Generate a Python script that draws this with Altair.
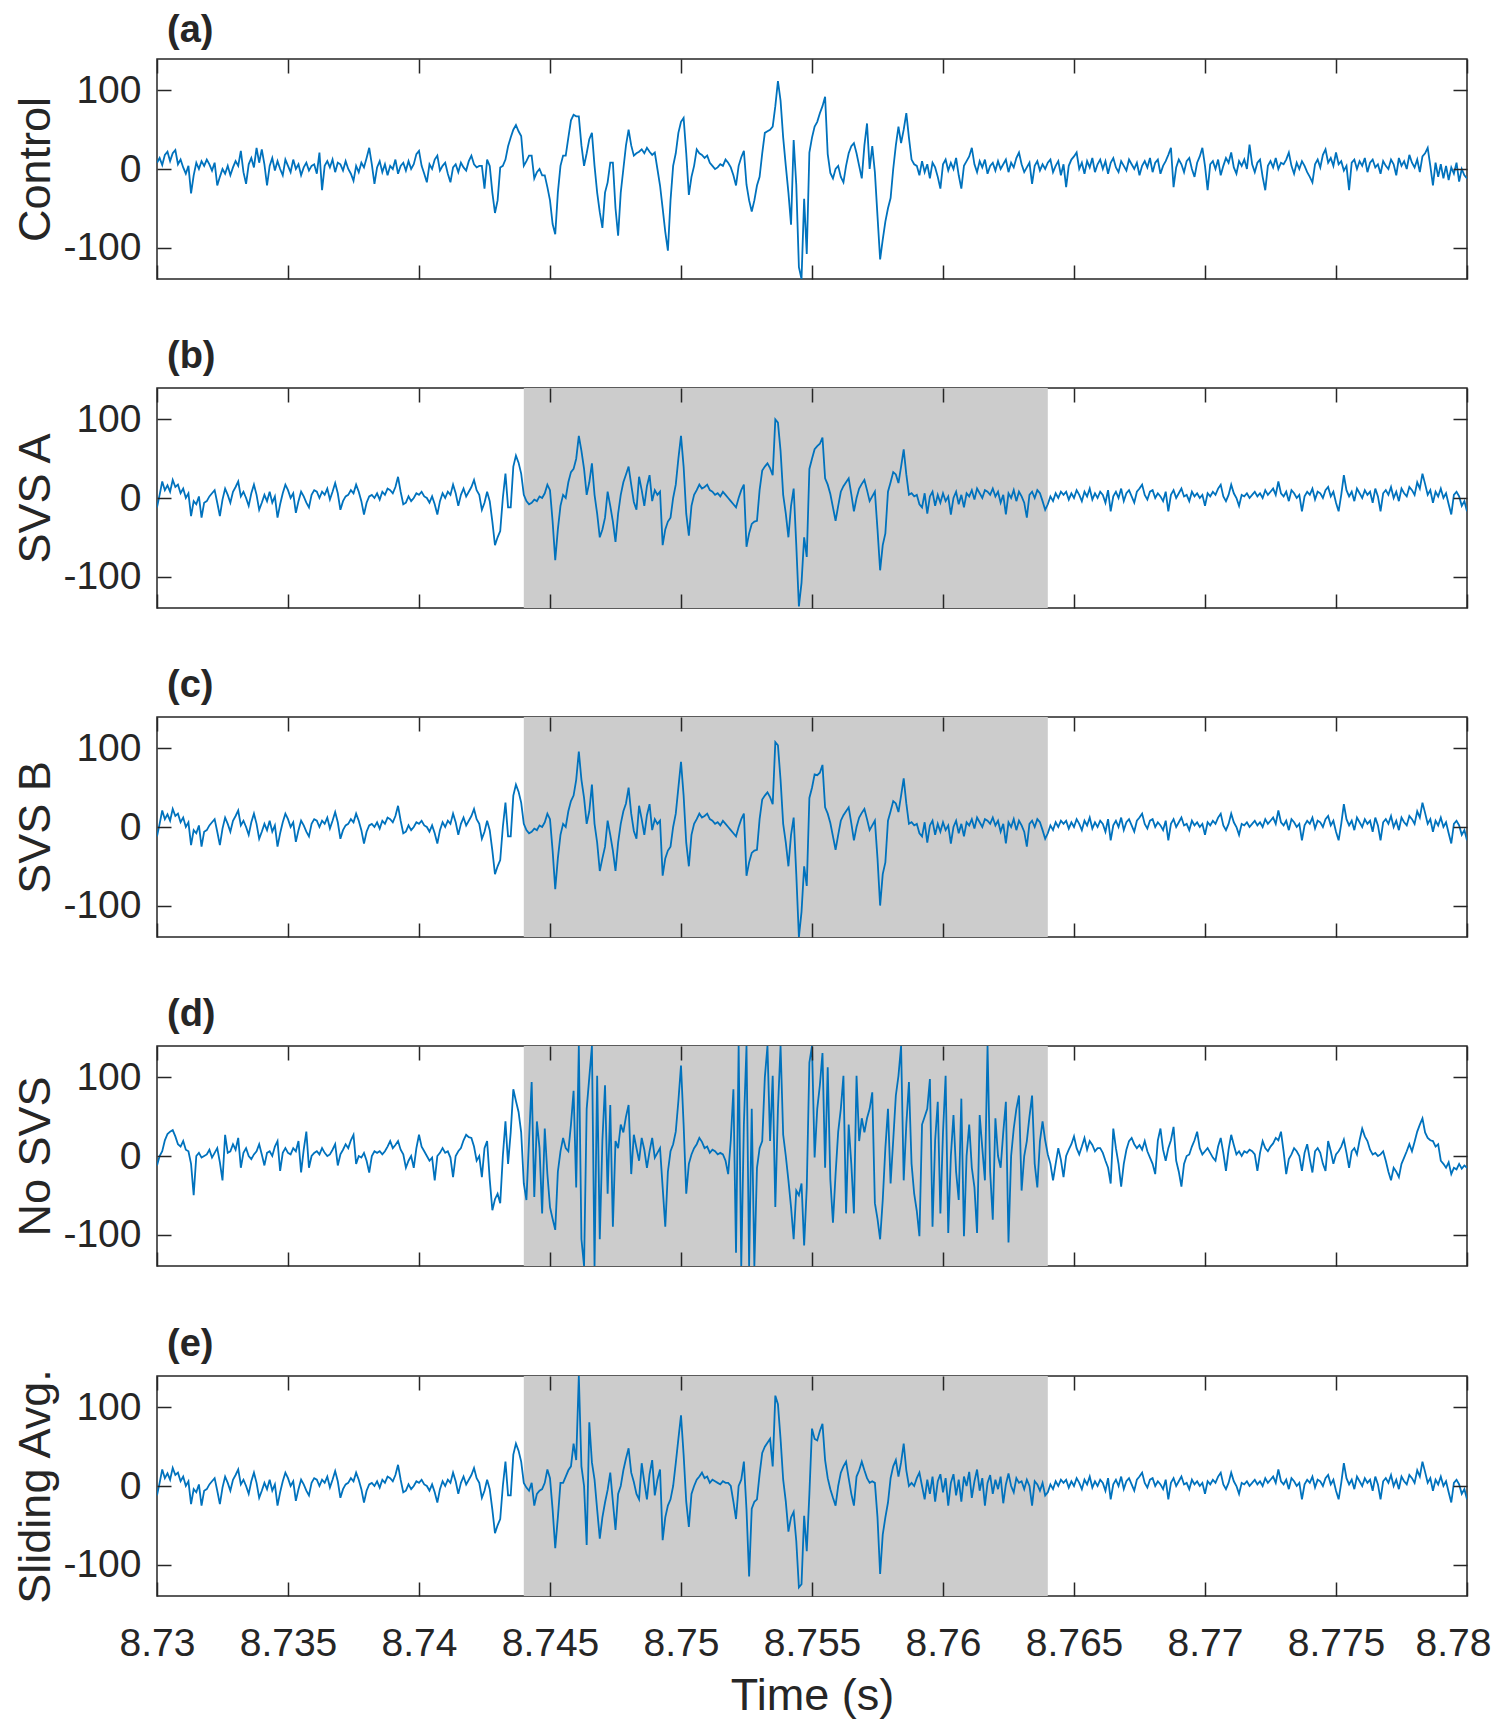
import numpy as np
import pandas as pd
import altair as alt

T0, T1 = 8.73, 8.78
X_TICKS = [8.73, 8.735, 8.74, 8.745, 8.75, 8.755, 8.76, 8.765, 8.77, 8.775, 8.78]
Y_TICKS = [-100, 0, 100]
Y_DOMAIN = [-140, 140]
WINDOW = [8.744, 8.764]

PANEL_TITLES = ["(a)", "(b)", "(c)", "(d)", "(e)"]
Y_LABELS = ["Control", "SVS A", "SVS B", "No SVS", "Sliding Avg."]

CONTROL = [
    8, 14, 5, 18, 22, 10, 20, 24, 6, 12,
    2, -6, 4, -31, -8, 8, 0, 10, 4, 12,
    6, -2, 8, -21, -10, 0, -6, 4, -8, 2,
    10, 4, 23, -4, -19, 6, 14, 2, 27, 8,
    25, 6, -21, 4, 14, -2, 10, 0, -8, 12,
    4, -4, 12, 0, 6, -8, 2, 8, -2, 4,
    6, -6, 21, -27, 4, 10, 2, 12, -4, 8,
    6, -2, 10, 0, -6, -15, 4, -4, 8, 2,
    14, 27, 6, -19, 2, 10, -4, 6, -8, 4,
    0, 12, -6, 4, 8, -2, 10, 0, 6, 19,
    23, 4, -6, -17, 6, 0, 12, 17, -2, 4,
    8, -6, -17, 2, 6, -4, 8, 2, -2, 10,
    17, 6, 2, 4, 4, -25, 12, 4, -30, -56,
    -40, 2, 4, 12, 29, 40, 50, 56, 48, 42,
    4, 10, 17, 17, -12, -4, 0, -8, -8, -23,
    -40, -70, -83, -30, 4, 17, 17, 40, 62, 69,
    67, 67, 30, 4, 20, 38, 46, 4, -30, -55,
    -75, -30, -17, 8, 8, -50, -85, -30, 0, 30,
    50, 30, 17, 20, 22, 25, 20, 27, 22, 18,
    21, 0, -21, -50, -80, -104, -40, 4, 20, 46,
    60, 65, 20, -33, -10, 4, 25, 20, 18, 14,
    17, 8, 4, 0, 2, 6, 4, 12, 8, 2,
    -8, -21, 4, 15, 23, -20, -40, -54, -40, -21,
    -10, 20, 46, 48, 50, 54, 80, 112, 87, 40,
    4, -30, -71, 37, -20, -125, -145, -38, -108, 21,
    40, 54, 60, 71, 80, 92, 19, -5, -12, 0,
    4, -10, -17, 4, 20, 29, 33, 20, 4, -12,
    30, 58, 0, 29, -4, -60, -115, -90, -67, -50,
    -37, 0, 30, 54, 33, 50, 71, 40, 12, 6,
    4, -8, 10, -4, 6, -12, 8, 2, -10, -25,
    6, 12, -2, 8, 0, 14, -8, -25, 4, 10,
    16, 27, 6, -4, 10, 2, 12, -6, 4, 8,
    -2, 10, 0, 6, 12, -4, 8, 2, 14, 21,
    6, -4, 2, 8, -19, 4, 10, -2, 6, 0,
    8, 12, -4, 4, 10, -8, 6, -23, 4, 12,
    16, 21, 0, 8, -6, 10, 2, 14, -4, 6,
    12, 0, 10, -6, 8, 14, 2, -4, 10, 4,
    -2, 12, 6, 0, 8, -8, 4, 10, 2, 14,
    -4, 8, 12, -6, 4, 10, 18, 27, -23, 2,
    12, 6, -4, 10, 14, 0, -10, 8, 16, 27,
    4, -27, 6, 10, 0, 12, -8, 4, 14, 8,
    21, 2, -6, 10, 4, 12, 0, 31, 6, -4,
    8, 12, -10, -27, 4, 10, 2, 14, 0, 8,
    6, 12, 21, 4, -6, 8, 0, 10, 4, -4,
    -10, -17, 6, 12, 2, 18, 25, 8, 14, 4,
    21, 6, 10, -2, 4, -27, 8, 12, 0, 10,
    4, 14, -4, 8, 12, 2, 6, -6, 10, 4,
    0, 12, 6, -8, 14, 4, 10, 0, 18, 8,
    2, 12, -4, 16, 20, 27, 4, -21, 8, -10,
    6, -12, 4, -14, 2, -6, 8, -16, 0, -8,
    -12,
]

# shared raw signal outside the processing window (panels b, c, e)
BCE_PRE = [
    -12, 4, 21, 10, 16, 8, 23, 14, 17, 6,
    12, 0, 6, -23, -4, -8, 2, -25, -6, -4,
    2, 6, 10, -6, -23, -2, 12, 4, -6, 8,
    14, 21, 2, 8, 0, -10, 6, 17, 4, -15,
    -6, 4, -4, 8, -6, 2, -25, -8, 6, 17,
    10, 0, 6, -19, -4, 8, 2, -6, -12, 4,
    10, 8, 0, 8, 4, 12, -2, 8, 19, 6,
    -15, -4, 2, 4, 10, 6, 17, 8, -4, -21,
    -6, 2, 4, 0, 6, -2, 8, 4, 12, 10,
    6, 14, 27, 8, -8, -6, 2, -4, 0, 6,
    4, 8, 2, 0, -6, 2, -8, -21, -4, 6,
    0, 8, 4, 17, 6, -10, 4, 12, 2, 8,
    14, 23, 10, 4, -15, -6, 8, -4, -30, -60,
    -50, -42, 0, 31, -12, -12, 40, 54, 45, 31,
]

BCE_POST = [
    -8, 2, -4, 6, 0, 8, 4, 8, -2, 6,
    0, 10, 4, -4, 8, 2, 12, -2, 6, 0,
    8, 4, -6, 10, -17, 2, 8, 0, 12, -4,
    6, 10, 2, -6, 8, 12, 17, 4, -2, 8,
    10, 0, 6, 2, -4, 8, -17, 4, 10, 0,
    6, 12, 2, 4, -4, 8, 2, 6, 0, 4,
    -10, 6, 2, 8, 4, 12, 17, 2, -4, 4,
    17, 6, 0, -10, 4, 2, 6, 0, 4, 8,
    2, 6, 0, 10, 4, 8, 12, 4, 21, 6,
    2, 8, -4, 10, 6, 0, 4, -17, 2, 8,
    4, 12, -2, 8, 6, 0, 10, 14, 2, 8,
    -6, -17, 4, 29, 10, 2, 8, -4, 12, 6,
    0, 10, 4, 8, -6, 12, 2, -17, 6, 10,
    4, 14, 0, 8, -4, 12, 6, 2, 14, 10,
    4, 20, 12, 31, 18, 4, 10, -6, 8, 2,
    12, 0, 6, -8, -21, 4, 8, 2, -10, -4,
    -17,
]

SVS_A_WIN = [
    4, -4, -8, -6, -2, -4, 2, 0, 6, 17,
    10, -30, -79, -40, -10, 4, 0, 20, 33, 37,
    50, 79, 60, 37, 4, 20, 44, 4, -20, -50,
    -40, -25, 8, -10, -30, -56, -20, 4, 20, 30,
    40, 17, -5, -15, 27, 10, -10, 15, 29, -4,
    10, 4, 8, -60, -40, -30, -25, 0, 17, 50,
    79, 40, -20, -48, -10, 4, 10, 17, 12, 14,
    17, 10, 8, 4, 6, 2, 8, 4, 0, -4,
    -8, -12, 0, 10, 17, -62, -45, -33, -30, -29,
    10, 35, 40, 44, 38, 29, 100, 96, 60, 4,
    -20, -50, -10, 12, -60, -138, -108, -50, -75, 37,
    50, 62, 66, 69, 77, 25, 17, 5, -12, -29,
    -10, 8, 15, 20, 25, 5, -17, 0, 12, 18,
    23, 10, -4, 2, 8, -40, -92, -60, -45, 8,
    20, 33, 30, 19, 40, 62, 30, 4, 6, 2,
    4, -8, -12, 6, -20, 2, 8, -10, 4, -6,
    6, -4, 2, -21, 0, 8, -8, 4, -12, 6,
    2, 10, -2, 12, 6, 0, 10, 8, 4, 12,
    2, 8, -6, 4, -21, 6, 0, 10, -4, 8,
    2, -6, -25, 4, 8, 0, 10, 6, -4, -15,
]

SVS_B_WIN = [
    4, -4, -8, -6, -2, -4, 2, 0, 6, 17,
    10, -30, -79, -40, -10, 4, 0, 20, 33, 40,
    60, 96, 60, 37, 4, 20, 54, 4, -20, -56,
    -40, -25, 8, -10, -30, -56, -20, 4, 20, 30,
    50, 17, -5, -15, 27, 10, -10, 15, 29, -4,
    10, 4, 8, -62, -40, -30, -25, 0, 17, 50,
    83, 40, -20, -50, -10, 4, 10, 17, 12, 14,
    17, 10, 8, 4, 6, 2, 8, 4, 0, -4,
    -8, -12, 0, 10, 17, -62, -45, -33, -30, -29,
    10, 35, 40, 44, 38, 29, 108, 104, 60, 4,
    -20, -50, -10, 12, -60, -145, -108, -50, -75, 37,
    50, 67, 66, 69, 79, 25, 17, 5, -12, -29,
    -10, 8, 15, 20, 25, 5, -17, 0, 12, 18,
    23, 10, -4, 2, 8, -40, -100, -60, -45, 8,
    20, 33, 30, 19, 40, 62, 30, 4, 6, 2,
    4, -8, -12, 6, -20, 2, 8, -10, 4, -6,
    6, -4, 2, -21, 0, 8, -8, 4, -12, 6,
    2, 10, -2, 12, 6, 0, 10, 8, 4, 12,
    2, 8, -6, 4, -21, 6, 0, 10, -4, 8,
    2, -6, -25, 4, 8, 0, 10, 6, -4, -15,
]

SLIDING_WIN = [
    4, -2, -6, 4, -25, -10, -6, -4, 4, 21,
    10, -30, -79, -40, 4, 4, 12, 20, 25, 54,
    33, 145, 25, 0, -75, 81, 30, 8, -30, -67,
    -40, -21, -5, 17, -20, -56, -10, 0, 20, 35,
    48, 17, 5, -10, -17, 29, 5, -17, 15, 33,
    -12, 8, 21, -69, -40, -25, -17, 0, 29, 60,
    90, 40, -20, -52, -10, 0, 8, 12, 17, 10,
    12, 4, 8, 6, 4, 2, 6, 4, 4, 0,
    -20, -42, 0, 8, 31, -30, -115, -29, -20, -17,
    15, 42, 50, 55, 60, 25, 115, 104, 60, 8,
    -20, -58, -40, -33, -70, -129, -125, -38, -83, -10,
    73, 60, 58, 70, 79, 33, 10, -4, -15, -25,
    0, 17, 25, 31, 10, -10, -25, 12, 20, 31,
    20, 10, 4, 6, 4, -40, -112, -62, -40, -21,
    10, 25, 33, 12, 30, 54, 20, 0, 4, 0,
    10, 17, 0, -17, 8, -10, 12, -20, 6, 15,
    -8, 10, -25, 4, 15, -12, 8, -20, 12, 0,
    18, -15, 6, 21, -6, 10, -25, 4, 14, -10,
    8, -4, 12, -22, 2, 16, 0, -8, 10, 4,
    6, -4, 8, 0, -25, 6, 2, -6, 4, -12,
]

NO_SVS = [
    -12, 0, 6, 20, 28, 31, 33, 25, 15, 12,
    19, 8, 6, -10, -50, 0, 4, -2, 0, 2,
    8, -2, 4, 10, -8, -31, 27, 4, 6, 15,
    8, 23, -15, 4, 10, 0, -4, 2, 6, 15,
    2, -12, 4, 6, 0, 12, 19, -19, 4, 10,
    4, 2, 10, 6, 19, -21, 8, 31, -15, 0,
    4, 6, 2, 10, 4, 0, 2, 8, 15, -12,
    2, 8, 15, 10, 20, 27, -10, 0, -2, 4,
    -6, -21, 0, 6, 4, 6, 2, 6, 12, 19,
    10, 14, 19, 8, 2, -15, -6, 0, -15, 10,
    27, 12, 6, 0, -6, -2, -31, 0, 4, 10,
    4, 6, -2, -27, 0, 6, 10, 20, 27, 24,
    23, 12, -6, 0, -27, 10, 19, -30, -69, -55,
    -48, -60, 0, 44, -10, 30, 85, 70, 56, 30,
    -35, -56, 20, 94, -52, 44, 10, -73, 35, -23,
    -65, -80, -94, -20, 6, 23, 10, 6, 40, 83,
    -40, 150, -106, -150, 60, 100, 150, -150, 102, -106,
    20, 90, -48, 65, -90, 19, 10, 40, 30, 50,
    65, -23, 27, 10, -6, 23, 8, -15, 6, 23,
    -2, 4, 10, -40, -90, -20, 6, 15, 31, 70,
    115, 40, -48, -10, 2, 10, 15, 23, 18, 10,
    12, 4, 8, 6, 2, 4, 2, -6, -23, 20,
    85, -123, 150, -150, 40, 150, -150, 60, -150, -15,
    10, 19, 100, 150, 19, 102, -65, 60, 150, 27,
    0, -31, -65, -106, -44, -50, -35, -114, -40, 119,
    144, -2, 60, 90, 131, -15, 113, -30, -85, -23,
    31, 60, 102, -73, 40, -10, -73, 102, 19, 48,
    30, 48, 60, 81, -60, -80, -106, -56, 10, 60,
    -35, 20, 77, 102, 144, -31, 40, 94, -10, -48,
    -70, -102, 40, 50, 60, 98, -90, 20, 69, -73,
    30, 102, -98, 0, 52, -20, -56, 73, -102, 0,
    40, -15, -40, -98, 52, 10, -31, 144, -20, -81,
    48, 0, -15, 30, 69, -110, 0, 35, 60, 77,
    -44, 0, 19, 50, 77, -10, -40, 19, 44, 20,
    2, -10, -31, -10, 10, -5, -27, 0, 8, 15,
    25, 10, 2, 12, 23, 8, 19, 14, 6, 10,
    10, 4, -6, -15, -35, 35, 10, -10, -39, -10,
    8, 19, 23, 15, 10, 14, 8, 19, 6, -2,
    -10, -23, 20, 35, 8, -6, 10, 20, 37, -6,
    -20, -39, -10, 0, 2, 12, 20, 31, 10, 2,
    6, 10, 4, -2, -6, 12, 23, 4, -19, 8,
    27, 14, 2, 6, 0, 6, 4, 8, 6, 2,
    -19, 4, 19, 10, 6, 12, 16, 23, 20, 31,
    6, -23, -4, 2, 10, 6, 0, -19, 4, 15,
    -4, -21, 6, 10, 4, -10, -19, 19, 6, -10,
    2, 6, 12, 21, 4, -15, 6, 10, 2, 20,
    35, 25, 19, 8, 2, 4, 0, 2, 6, -6,
    -20, -31, -15, -20, -27, -10, -2, 6, 15, 6,
    18, 31, 40, 48, 30, 23, 20, 19, 12, 15,
    -6, -10, -15, -8, -23, -15, -17, -10, -16, -12,
    -15,
]

SVS_A = BCE_PRE + SVS_A_WIN + BCE_POST
SVS_B = BCE_PRE + SVS_B_WIN + BCE_POST
SLIDING = BCE_PRE + SLIDING_WIN + BCE_POST

SERIES = [CONTROL, SVS_A, SVS_B, NO_SVS, SLIDING]
SHADED = [False, True, True, True, True]
# panel (e)'s long y title reaches above its frame, so its heading sits closer;
# panel (a)'s heading sits a little lower so it stays clear of the page top
TITLE_OFFSETS = [8, 11, 11, 11, 4]

INK = "#262626"
LINE = "#0072BD"
SHADE = "#CCCCCC"
FONT = "Liberation Sans"
TICK = 14
W, H = 1310, 220

XS = alt.Scale(domain=[T0, T1], nice=False, zero=False)
YS = alt.Scale(domain=Y_DOMAIN, nice=False, zero=False, clamp=True)
XFMT = "format(datum.value, '.3~f')"
YFMT = "(datum.value < 0 ? '-' : '') + format(abs(datum.value), 'd')"
LAST_SHIFT = {"condition": {"test": "datum.value > 8.7795", "value": -14}, "value": 0}


def x_axis(orient, labels):
    return alt.Axis(orient=orient, values=X_TICKS, labels=labels, labelExpr=XFMT,
                    labelFlush=False, labelOverlap=False, labelPadding=28,
                    labelFontSize=39, labelOffset=LAST_SHIFT, domain=False,
                    grid=False, tickSize=TICK, offset=-TICK, titleFontSize=45,
                    titlePadding=10, zindex=1, minExtent=0)


def y_axis(orient, labels):
    return alt.Axis(orient=orient, values=Y_TICKS, labels=labels, labelExpr=YFMT,
                    labelPadding=16, labelFontSize=39, domain=False, grid=False,
                    tickSize=TICK, offset=-TICK, titleFontSize=45, titlePadding=4,
                    zindex=1, minExtent=0)


shade_df = pd.DataFrame({"s": [WINDOW[0]], "e": [WINDOW[1]]})


def panel(vals, ylab, ttl, shaded, last, toff):
    df = pd.DataFrame({"t": np.linspace(T0, T1, len(vals)), "v": vals})
    layers = []
    if shaded:
        layers.append(alt.Chart(shade_df).mark_rect(color=SHADE).encode(
            x=alt.X("s:Q", scale=XS, axis=None), x2="e:Q"))
    line = alt.Chart(df).mark_line(color=LINE, strokeWidth=1.8, clip=True).encode(
        x=alt.X("t:Q", scale=XS, axis=x_axis("bottom", last),
                title="Time (s)" if last else None),
        y=alt.Y("v:Q", scale=YS, axis=y_axis("left", True), title=ylab))
    ghost = alt.Chart(df).mark_line(opacity=0, clip=True).encode(
        x=alt.X("t:Q", scale=XS, axis=x_axis("top", False), title=None),
        y=alt.Y("v:Q", scale=YS, axis=y_axis("right", False), title=None))
    layers += [line, ghost]
    return alt.layer(*layers).resolve_axis(x="independent", y="independent").properties(
        width=W, height=H,
        title=alt.TitleParams(ttl, anchor="start", frame="group", dx=10, fontSize=38,
                              fontWeight="bold", offset=toff, color=INK, font=FONT))


panels = [panel(SERIES[k], Y_LABELS[k], PANEL_TITLES[k], SHADED[k], k == 4,
                TITLE_OFFSETS[k])
          for k in range(5)]

chart = alt.vconcat(*panels, spacing=56).properties(
    padding={"left": 5, "top": 3, "right": 0, "bottom": 6}
).configure_view(stroke=INK, strokeWidth=1.5).configure_axis(
    labelFont=FONT, titleFont=FONT, labelColor=INK, titleColor=INK,
    tickColor=INK, tickWidth=1.5, titleFontWeight="normal"
).configure_title(font=FONT, color=INK)

chart.save("out.html", embed_options={"renderer": "svg", "actions": False})
